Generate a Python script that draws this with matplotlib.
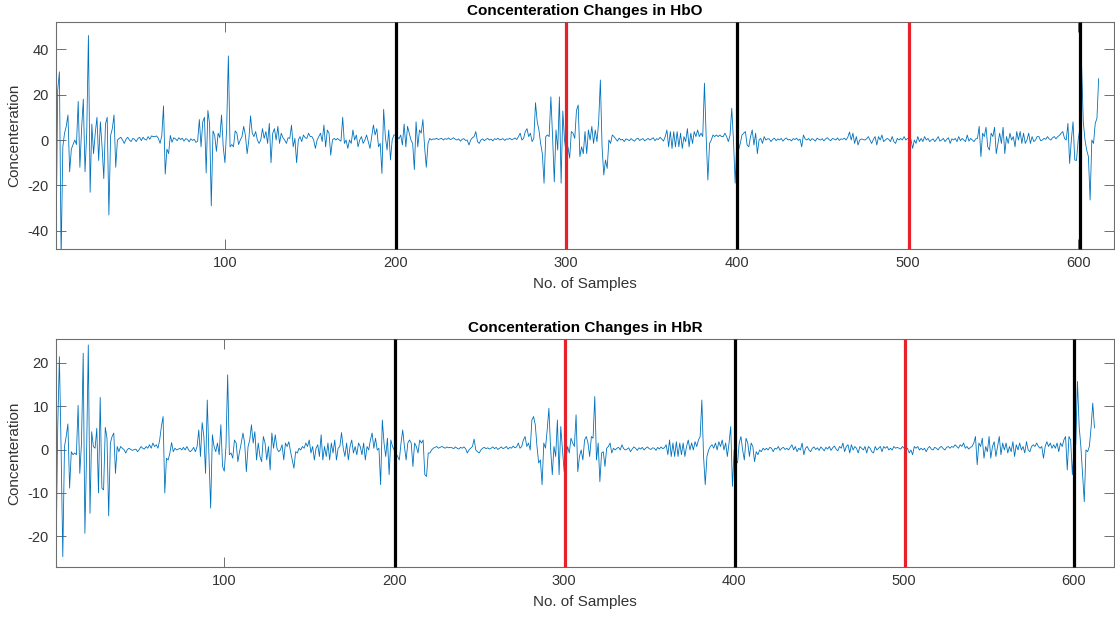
import numpy as np
import matplotlib
matplotlib.use("Agg")
import matplotlib.pyplot as plt

plt.rcParams['font.family'] = ['Liberation Sans', 'DejaVu Sans']
plt.rcParams['axes.unicode_minus'] = False

# HbO concentration change per sample (samples 1..612)
hbo = [
    -47, 22, 30, -52, -3, 3, 6, 11, -14, -4,
    -2, 0, -2, 17, -12, 5, 18, -14, 3, 46,
    -23, 7, -6, 3, 10, -9, 8, -3, -17, 7,
    10, -33, 2, 5, 11, -12, 0, 0.7, 1.2, 0,
    -1.5, 0.3, 1.2, 0, -0.7, 0.7, 0.3, -0.7, 0.7, 1.2,
    -0.3, 1.2, 0.3, 0, 1.5, 0.3, 1.8, 1.5, 1.5, 1.8,
    0.7, -1.5, 2, 15, -15, -4, -6, 2, -1, 1,
    0.5, -0.3, 1, 0.2, 0.8, -0.5, 0.6, 0.3, -0.8, 0.5,
    -0.2, 0.3, -1, -0.5, 9, -3, 8, 10, -14.5, 13,
    7, -29, 4, 2, -5, 3, 1, 11, -3, -10,
    5, 37, -3, -2, -3, 4, 3, -2, 0, 1.5,
    6, 2, -6, 0, 10.6, 3, 1.5, 3.7, 0, -1.5,
    0, 5, 0.7, 3.7, -1.5, 7.3, -10, 3, 5, 0,
    6, -1.5, 3, 1, 0, -1.5, 1, 0.7, 6.5, -3,
    0.7, -10, 0, 1.5, -0.7, 2.2, 1, 0.7, 3, 1.5,
    1.5, 0, -3.7, 0, 1.5, 3, -0.7, 6.6, -3, 4.4,
    3, -6.7, 0, 0.7, 0, 0.7, 0, -0.5, 10, -1.5,
    0, -3.7, 0, -1.5, 4.4, 0, 2.2, -3, 0, 1.5,
    -1.5, 0, 2.2, -0.7, -3.7, 1.5, 6.6, 2.2, 5, -3,
    -1.5, -14.7, 13.5, 1.5, -4.4, 4.4, -8.8, 0, 2.2, 2.2,
    1.5, 0.5, 2.2, -2.2, 7, -3, 6, 3, 0, -1.5,
    -13, 8, -3, 4.4, 3, 9, -3, -12, -1.5, 0.7,
    0, 0.5, 0.3, 0.8, 0.2, 0.5, 0.7, 0, 0.6, 0.3,
    0.9, 0.2, 0.5, 1, 0.3, 0, 0.5, -0.5, 0.3, 0.6,
    -0.2, 0, -2.2, 0, 1, 1.5, 3.7, -0.7, -1.5, 0,
    0.5, -0.3, 0.3, 0.7, 0, 0.4, -0.4, 0.6, 0.2, 0.8,
    0, 0.3, 0.6, -0.2, 0.5, 0.3, 0.8, 0.1, 0.4, 0.9,
    0.2, 1.5, 3, 0, 0.7, 3.7, 5, 1.5, 3, -0.7,
    0.7, 16.4, 8, 4.4, -1.5, -6, -19, 1.5, 2.2, 1.5,
    19, 1.5, -18.4, 4.4, -4.4, 19, -19, 12.8, 0, -6,
    -3, -8, 3.7, 3, 0.7, 13, 15.4, -7.3, -3, -6,
    3.7, -6, 4.4, 0, 6, -1.5, 4.4, -0.7, 8, 26.4,
    -3, -15.4, -8.8, -12.5, 0, -1.5, 2.2, 1.5, 0.5, -0.5,
    0.8, 0, 0.3, -0.7, 0.5, 0.2, -0.3, 0.6, 0, -0.5,
    0.4, 0.8, -0.2, 0.3, 0.6, -0.4, 0.2, 0.7, 0, 0.5,
    1, -0.3, 0.6, 0.2, 1.2, 0.4, -0.5, 1.5, 4.4, -3,
    3.7, -3.7, 3.7, -3, 3.7, -3, 3, -3.7, 1.5, -0.7,
    5, -3, 3, -1.5, 3.7, 1.5, 4.4, 1.5, 3, 1.5,
    25, 1.5, -17.6, -1.5, 0, 2.2, 1.5, 2.2, 1.5, 2.2,
    1.5, 1.5, 3, 1.5, -0.7, 2.2, 14, 0, -19, 0,
    -4.4, -1.5, 2.2, 3, 3.7, -2.2, -3, 1.5, 4.4, -2.2,
    3, -6, 0, 0.7, -1.5, 1.5, 0, 0.5, 0.5, -0.7,
    0.3, 0.8, -0.3, 0.5, 0, 0.7, -0.5, 0.4, 0.9, 0,
    0.3, -0.4, 0.6, 0.2, 0.8, -0.2, 0.4, -3, 2.2, 0.5,
    0, 0.7, -0.3, 0.6, 0.2, -0.5, 0.8, 0.3, 0, 0.6,
    -0.4, 0.5, 1, 0.2, -0.3, 0.7, 0.4, 0, 0.9, -0.2,
    0.5, 0.3, 0.8, 0, 1.2, 3.5, 0, 3, -1.5, 1.5,
    -2.2, 0, 0.5, 0.2, 0, 0.5, 1.5, 0, -1.5, 0.3,
    1.5, -2.2, 1.5, 0, 2.2, -0.7, 0, 0.7, 0.3, -0.7,
    1.5, -0.7, -1.5, 0.7, 0, 0.7, 0, 1.5, 0, 0.7,
    0.5, 0.2, -3.7, 0, -1.5, 1.5, -0.7, 0.7, -0.7, 1.5,
    0, 0.7, -0.7, 0, 0.5, -0.7, 0.3, 1.5, -0.5, 0,
    0.7, -0.7, 0.3, 1, -1.5, 0.5, 0, 0.7, -0.7, 1.5,
    -0.3, 0.7, 0, -0.7, 2.2, -0.5, 0.7, 0, -0.7, 0.5,
    0.7, 6, -7.3, 3, 1.5, 5.6, -3, -4.4, 3, 1.5,
    5.6, -6, -1.5, 3, -1.5, 5.6, -6, 1.5, -1.5, 3,
    0, 1.5, -3, 3.7, 0, 3.7, -1.5, 3, -1.5, 0,
    3, -1.5, 1.5, -0.7, 0, 1.5, 1.5, -0.3, 0, 0.7,
    0.3, 1.5, 0.5, 0, 1, 1.5, 0.5, 1.5, 2, 3,
    3.7, 0.7, 0, 7.3, -10.3, 0, 8, -8.8, -9, 0,
    5, 33, 8, 0, -4.4, -7.3, -26.4, 0, -1.5, 7.3, 9.5, 27,
]

# HbR concentration change per sample (samples 1..612)
hbr = [
    -25.4, 5, 21.4, 0, -24.7, 0.7, 3, 5.9, -8.9, -0.5,
    -1.2, -0.8, -1.2, 10.2, -5.5, 1.5, 22.2, -19.3, -0.8, 24.1,
    -14.7, 4.1, 0.7, 0.3, 4.9, -10, 12, -8.9, -9.3, 5.1,
    2.6, -15.3, 1.5, 3, 3.8, -5.5, 0.7, -0.5, 0.7, 0.3,
    0, -0.8, 0, 0.3, 0, -0.2, 0, 0.1, -0.5, 0,
    0.7, 0.3, 0.1, 0.7, 0.3, 1.1, 0.3, 1.5, 0.7, 1.1,
    0.3, 2.2, 5.3, 7.6, -10, -2, -2.4, -0.8, 1.6, -0.5,
    0.3, -0.1, 0.1, 0.3, -0.1, 0.5, -0.1, 0.7, -0.1, -0.5,
    -0.1, 0.5, -0.5, 0.7, 4.5, -1.6, 6.2, 3, -5.5, 11.4,
    -1.6, -13.5, 3.4, 0.7, -0.5, 1.5, -1.2, 5.7, -3.9, -5,
    0.7, 17.2, -1.2, -0.8, -2, 2.2, 1.5, -2.8, -0.5, 1.5,
    3.8, 1.5, -5.1, 0.7, 2.2, 5.7, 1.5, 4.1, -2.4, 1.5,
    -1.6, -2.8, 3, 1.5, -2.4, 0.7, -4.7, 3.8, 0.3, 3.4,
    0.3, -0.5, -0.1, 1.1, -2.4, 1.5, 0.7, 1.8, -0.5, -2.4,
    -4.3, -0.5, -0.8, 0.3, -0.1, 0.7, 0.3, 1.5, 0.7, 2.2,
    -0.8, 0.7, -2.4, 0.3, 1.1, -1.6, 3.4, -2.4, 0.7, -1.6,
    1.5, -2.4, 1.5, -0.8, 2.2, -2.4, 0.3, 0.7, 3.9, 0.3,
    -1.6, 1.5, -2.4, 0.7, 2.2, -0.8, 0.7, -1.2, 1.5, 0.7,
    -1.2, 1.5, -2.4, 0.7, -0.1, 2.2, 3.8, 0.3, 2.6, -0.1,
    0.3, -8.1, 6.8, 1.5, -1.6, 2.6, -5.8, 2.2, 0.7, -0.1,
    -0.8, -1.6, -2.4, 1.5, 4.5, 0.7, -2.4, 1.5, 2.2, 1.5,
    -3.9, 1.5, 0.7, -0.8, 2.2, 1.5, 2.2, -5.8, -6.2, -0.8,
    -0.8, -0.1, 0.3, 0.5, 0.7, 0.3, 0.5, 0.7, 0.5, 0.3,
    0.6, 0.4, 0.5, 0.4, 0.2, 0.6, 0.3, 0.1, 0.5, 0.3,
    0.6, 0.2, -0.8, -0.1, 0.3, 0.7, 2.4, -0.1, -0.5, -0.8,
    -0.1, 0.3, 0.5, 0.2, 0.4, 0.1, 0.3, 0.6, 0.2, 0.5,
    0, 0.3, 0.6, 0.2, 0.4, 0.7, 0.1, 0.5, 0.3, 0.8,
    0.4, 0.6, 1.5, 0.3, 0.7, 2.2, 3, 0.7, 1.5, -0.1,
    6.8, 7.6, 5.7, 0.7, -3.1, -2.4, -8.1, 1.5, 0.3, 4.5,
    9.5, 0.3, -5.8, 0.7, -1.6, 6.8, -5.8, 5.3, -0.1, -5.1,
    -2.4, 0.7, -0.8, 2.6, 1.5, 0.7, 8, -5.1, -1.6, -0.1,
    -2.4, 2.2, 3, 1.5, -1.6, 3, 2.6, 12.2, -2.4, 1.5,
    -7.4, -0.8, -0.5, -3.9, 0.3, 0.7, 1.5, -0.8, 0.3, -0.1,
    0.3, 0.5, -0.1, 1.1, 0.2, -0.1, 0.1, 0.4, -0.5, 0.1,
    0.6, 0.3, -0.2, 0.4, 0.1, 0.5, -0.1, 0.3, 0.6, 0.2,
    0, 0.4, 0.3, -0.2, 0.5, 0.1, 0.6, 0.2, 0.4, 1.1,
    -1.2, 2.2, -1.6, 1.5, -1.6, 1.8, -1.6, 1.5, -1.2, 1.5,
    -1.6, 0.7, 2.2, -0.1, 1.5, -0.1, 1.8, 0.7, 2.2, 3,
    11.4, -1.6, -8.1, -1.6, -0.1, 0.7, 1.1, 0.3, 1.5, -0.1,
    1.8, 0.7, 2.2, -0.1, 1.5, -1.6, 1.5, 5.3, -8.5, -0.1,
    -2.4, -3.1, 1.5, 3, -0.1, -2.4, 2.6, 1.5, -1.6, 1.5,
    0.7, -2.8, -0.5, -1.2, -0.1, -0.5, 0.3, -0.1, 0.3, -0.1,
    0.5, 0.3, -0.5, 0.3, 0.1, 0.7, -0.2, 0.3, 0.5, 0,
    0.3, -0.1, 0.5, 1.1, -0.1, 0.7, -0.5, 0.3, -0.1, 1.5,
    -1.2, 0.3, 0.7, -0.1, -0.5, 0.3, 0.6, 0, 0.4, -0.2,
    0.6, 0.2, -0.3, 0.5, 0.1, 0.7, -0.2, 0.4, 0.8, 0.1,
    -0.3, 0.7, 0.3, 1.5, -0.5, 0.7, 1.1, -0.8, 1.1, -0.1,
    0.7, 0.3, -0.8, 0.7, 0.3, -0.1, 0.7, -0.8, 0.7, 0.3,
    -0.5, -0.8, 0.7, -0.1, 0.3, 0.7, -0.5, 0.7, 0.3, 0.7,
    -0.1, 0.3, -0.1, 0.7, 0.3, 0.5, 0.3, 0.1, 0.7, 0.3,
    -0.1, 0.3, -0.8, -0.1, -1.2, 0.7, 0.3, 0.7, -0.1, 0.3,
    -0.1, 0.3, -0.5, 0.3, 0.7, 0.1, -0.1, 0.5, 0.3, -0.1,
    0.5, 0.7, 0.2, -0.1, 0.5, 0.7, 0.3, 0.7, 0.5, 1.1,
    0.7, 0.3, 1.1, 0.7, 1.5, 0.3, 0.7, 0.1, 0.5, 0.7,
    1.5, 3, -3.5, 1.5, 0.7, 2.6, -2, 0.7, -0.5, 3,
    -2, 0.7, 1.8, -1.6, 0.7, 3, -1.2, 1.5, -0.1, 1.5,
    -0.8, 0.7, -0.5, 1.8, -1.6, 1.1, -0.1, 1.5, -0.1, 0.7,
    -0.8, 1.8, -0.1, -0.5, 0.7, 1.1, 0.7, 1.5, 0.7, 0.3,
    0.7, -2, 0.7, 1.8, 0.7, 1.5, 0.3, 1.1, 0.3, 1.5,
    -0.5, 1.5, 0.7, 2.2, 3, -4.7, 3, 2.2, -5.8, 0.7,
    1.1, 15.7, 5.3, 0.7, -5.5, -12, -0.1, -0.5, 0.7, 5, 10.7, 5,
]

# Event markers (sample positions) and their colours
hbo_marks = [200, 300, 400, 500.6, 601.2]
hbr_marks = [200.2, 300.7, 400.4, 500.7, 599.8]
mark_colors = ['black', '#e8202a', 'black', '#e8202a', 'black']

x_ticks = [100, 200, 300, 400, 500, 600]
hbo_yticks = [-40, -20, 0, 20, 40]
hbr_yticks = [-20, -10, 0, 10, 20]

titles = ['Concenteration Changes in HbO', 'Concenteration Changes in HbR']
x_label = 'No. of Samples'
y_label = 'Concenteration'

text_color = '#333333'
axis_color = '#6e6e6e'
signal_color = '#0072BD'

W, H = 1115, 617
fig = plt.figure(figsize=(W / 100, H / 100), dpi=100)
fig.patch.set_facecolor('white')

ax_top = fig.add_axes([56 / W, 1 - 249.3 / H, (1114 - 56) / W, 227.0 / H])
ax_bot = fig.add_axes([56 / W, 1 - 566.7 / H, (1114 - 56) / W, 227.4 / H])

panels = [
    (ax_top, hbo, hbo_marks, hbo_yticks, (-48.1, 51.8), (1, 621), titles[0]),
    (ax_bot, hbr, hbr_marks, hbr_yticks, (-27.0, 25.4), (1, 623.5), titles[1]),
]

for ax, series, marks, yticks, ylim, xlim, title in panels:
    samples = np.arange(1, len(series) + 1)
    ax.plot(samples, series, color=signal_color, lw=0.6, zorder=2)
    for xm, c in zip(marks, mark_colors):
        ax.plot([xm, xm], list(ylim), color=c, lw=2.3, zorder=3,
                solid_capstyle='butt', clip_on=False)
    ax.set_xlim(*xlim)
    ax.set_ylim(*ylim)
    ax.set_xticks(x_ticks)
    ax.set_yticks(yticks)
    ax.tick_params(direction='in', length=7, width=0.7, colors=axis_color,
                   labelcolor=text_color, labelsize=10.5, top=True, right=True,
                   pad=5)
    for sp in ax.spines.values():
        sp.set_color(axis_color)
        sp.set_linewidth(0.8)
    ax.set_title(title, fontsize=11, fontweight='bold', color='black', pad=5)
    ax.set_xlabel(x_label, fontsize=11, color=text_color, labelpad=5)
    ax.set_ylabel(y_label, fontsize=11, color=text_color, labelpad=5)

fig.savefig('out.png', dpi=100, facecolor='white')
